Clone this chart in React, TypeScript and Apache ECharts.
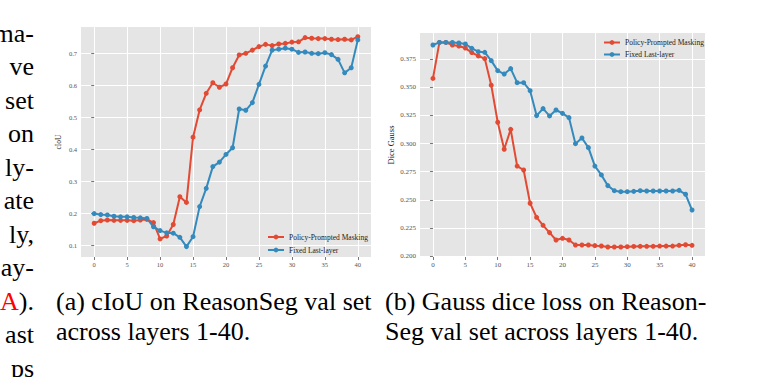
import React, { useEffect, useRef } from "react";
import * as echarts from "echarts";

const layers = [0, 1, 2, 3, 4, 5, 6, 7, 8, 9, 10, 11, 12, 13, 14, 15, 16, 17, 18, 19, 20, 21, 22, 23, 24, 25, 26, 27, 28, 29, 30, 31, 32, 33, 34, 35, 36, 37, 38, 39, 40];

const ciouPolicy = [0.168, 0.176, 0.178, 0.177, 0.177, 0.177, 0.176, 0.178, 0.18, 0.17, 0.119, 0.128, 0.164, 0.251, 0.233, 0.437, 0.522, 0.574, 0.607, 0.593, 0.603, 0.654, 0.694, 0.699, 0.709, 0.72, 0.727, 0.723, 0.728, 0.73, 0.734, 0.735, 0.748, 0.746, 0.745, 0.745, 0.743, 0.742, 0.743, 0.741, 0.751];
const ciouFixed = [0.198, 0.195, 0.194, 0.19, 0.188, 0.188, 0.186, 0.185, 0.183, 0.157, 0.145, 0.138, 0.137, 0.124, 0.095, 0.126, 0.22, 0.277, 0.345, 0.359, 0.383, 0.404, 0.525, 0.521, 0.545, 0.602, 0.659, 0.709, 0.712, 0.715, 0.712, 0.702, 0.703, 0.699, 0.698, 0.701, 0.695, 0.68, 0.638, 0.654, 0.741];

const dicePolicy = [0.358, 0.39, 0.39, 0.3877, 0.3868, 0.385, 0.381, 0.378, 0.3756, 0.352, 0.319, 0.295, 0.3127, 0.28, 0.2765, 0.2469, 0.2344, 0.2273, 0.2208, 0.2142, 0.2157, 0.2142, 0.2098, 0.2098, 0.2098, 0.2092, 0.2089, 0.208, 0.208, 0.208, 0.2083, 0.2085, 0.2086, 0.2086, 0.2086, 0.2088, 0.2088, 0.2088, 0.2095, 0.21, 0.2095];
const diceFixed = [0.3877, 0.39, 0.39, 0.39, 0.3895, 0.3886, 0.3847, 0.3818, 0.3812, 0.3738, 0.3649, 0.3619, 0.3667, 0.3542, 0.3542, 0.3471, 0.3249, 0.3311, 0.3246, 0.3299, 0.3269, 0.3231, 0.2999, 0.305, 0.2964, 0.28, 0.2721, 0.2626, 0.2581, 0.2572, 0.2572, 0.2575, 0.2581, 0.2578, 0.2578, 0.2578, 0.2578, 0.2578, 0.2584, 0.2549, 0.2409];

const xTicks = [0, 5, 10, 15, 20, 25, 30, 35, 40];
const ciouTicks = [0.1, 0.2, 0.3, 0.4, 0.5, 0.6, 0.7];
const diceTicks = [0.2, 0.225, 0.25, 0.275, 0.3, 0.325, 0.35, 0.375];

const seriesNames = ["Policy-Prompted Masking", "Fixed Last-layer"];
const seriesColors = ["#E24A33", "#348ABD"];

const sideLines = ["ma-", "ve", "set", "on", "ly-", "ate", "ly,", "ay-", "A).", "ast", "ps"];
const captionA = ["(a) cIoU on ReasonSeg val set", "across layers 1-40."];
const captionB = ["(b) Gauss dice loss on Reason-", "Seg val set across layers 1-40."];

const SERIF = "Liberation Serif";

function pairs(vals: number[]) {
  return layers.map((x, i) => [x, vals[i]]);
}

export default function App() {
  const ref = useRef<HTMLDivElement>(null);
  useEffect(() => {
    if (!ref.current) return;
    const chart = echarts.init(ref.current, undefined, { renderer: "svg" });

    const xAxisBase = (gridIndex: number, fs: number) => ({
      gridIndex,
      type: "value",
      min: -2,
      max: 42,
      axisLine: { show: false },
      axisTick: { show: true, length: 3, customValues: xTicks, lineStyle: { color: "#555", width: 0.8 } },
      axisLabel: { customValues: xTicks, fontSize: fs, color: "#555", fontFamily: SERIF, margin: 4 },
      splitLine: { show: true, lineStyle: { color: "#fff", width: 1 } },
    });

    const lineSeries = (name: string, color: string, data: number[], idx: number) => ({
      name,
      type: "line",
      xAxisIndex: idx,
      yAxisIndex: idx,
      data: pairs(data),
      symbol: "circle",
      symbolSize: 5,
      showSymbol: true,
      lineStyle: { color, width: 2 },
      itemStyle: { color },
      emphasis: { disabled: true },
    });

    const graphics: any[] = [];
    const lineStart = 33;
    const lineStep = 33.5;
    sideLines.forEach((t, i) => {
      const y = lineStart + i * lineStep;
      if (t === "A).") {
        graphics.push({
          type: "text",
          x: 34,
          y,
          style: {
            text: "{r|A}{k|).}",
            align: "right",
            verticalAlign: "middle",
            fontSize: 26,
            fontFamily: SERIF,
            rich: {
              r: { fill: "#ff0000", fontSize: 26, fontFamily: SERIF },
              k: { fill: "#000", fontSize: 26, fontFamily: SERIF },
            },
          },
        });
      } else {
        graphics.push({
          type: "text",
          x: 34,
          y,
          style: { text: t, align: "right", verticalAlign: "middle", fontSize: 26, fontFamily: SERIF, fill: "#000" },
        });
      }
    });
    const capY0 = lineStart + 8 * lineStep;
    const capStep = 30;
    captionA.forEach((t, i) => {
      graphics.push({
        type: "text",
        x: 56,
        y: capY0 + i * capStep,
        style: { text: t, align: "left", verticalAlign: "middle", fontSize: 26, fontFamily: SERIF, fill: "#000" },
      });
    });
    captionB.forEach((t, i) => {
      graphics.push({
        type: "text",
        x: 385,
        y: capY0 + i * capStep,
        style: { text: t, align: "left", verticalAlign: "middle", fontSize: 26, fontFamily: SERIF, fill: "#000" },
      });
    });

    chart.setOption({
      animation: false,
      backgroundColor: "#fff",
      grid: [
        { left: 81, top: 27, width: 290, height: 230, show: true, backgroundColor: "#E5E5E5", borderWidth: 0 },
        { left: 420, top: 33, width: 285, height: 224, show: true, backgroundColor: "#E5E5E5", borderWidth: 0 },
      ],
      xAxis: [xAxisBase(0, 6.5), xAxisBase(1, 7)],
      yAxis: [
        {
          gridIndex: 0,
          type: "value",
          min: 0.0625,
          max: 0.78125,
          name: "cIoU",
          nameLocation: "middle",
          nameRotate: 90,
          nameGap: 19,
          nameTextStyle: { fontSize: 7.5, fontFamily: SERIF, color: "#222" },
          axisLine: { show: false },
          axisTick: { show: true, length: 3, customValues: ciouTicks, lineStyle: { color: "#555", width: 0.8 } },
          axisLabel: { customValues: ciouTicks, fontSize: 6.5, color: "#555", fontFamily: SERIF, margin: 4, formatter: (v: number) => v.toFixed(1) },
          splitLine: { show: true, lineStyle: { color: "#fff", width: 1 } },
        },
        {
          gridIndex: 1,
          type: "value",
          min: 0.1991,
          max: 0.3984,
          name: "Dice Gauss",
          nameLocation: "middle",
          nameRotate: 90,
          nameGap: 25,
          nameTextStyle: { fontSize: 8.5, fontFamily: SERIF, color: "#222" },
          axisLine: { show: false },
          axisTick: { show: true, length: 3, customValues: diceTicks, lineStyle: { color: "#555", width: 0.8 } },
          axisLabel: { customValues: diceTicks, fontSize: 7, color: "#555", fontFamily: SERIF, margin: 4, formatter: (v: number) => v.toFixed(3) },
          splitLine: { show: true, lineStyle: { color: "#fff", width: 1 } },
        },
      ],
      legend: [
        {
          data: seriesNames,
          orient: "vertical",
          left: 267,
          top: 233,
          itemWidth: 16,
          itemHeight: 6,
          itemGap: 5,
          padding: 0,
          textStyle: { fontSize: 7.5, fontFamily: SERIF, color: "#222" },
          selectedMode: false,
        },
        {
          data: seriesNames,
          orient: "vertical",
          left: 603,
          top: 38.5,
          itemWidth: 16,
          itemHeight: 6,
          itemGap: 4,
          padding: 0,
          textStyle: { fontSize: 7.5, fontFamily: SERIF, color: "#222" },
          selectedMode: false,
        },
      ],
      series: [
        lineSeries(seriesNames[0], seriesColors[0], ciouPolicy, 0),
        lineSeries(seriesNames[1], seriesColors[1], ciouFixed, 0),
        lineSeries(seriesNames[0], seriesColors[0], dicePolicy, 1),
        lineSeries(seriesNames[1], seriesColors[1], diceFixed, 1),
      ],
      graphic: graphics,
    });
    return () => chart.dispose();
  }, []);

  return (
    <div
      ref={ref}
      style={{ position: "absolute", left: 0, top: 0, width: 760, height: 377, background: "#fff" }}
    />
  );
}
